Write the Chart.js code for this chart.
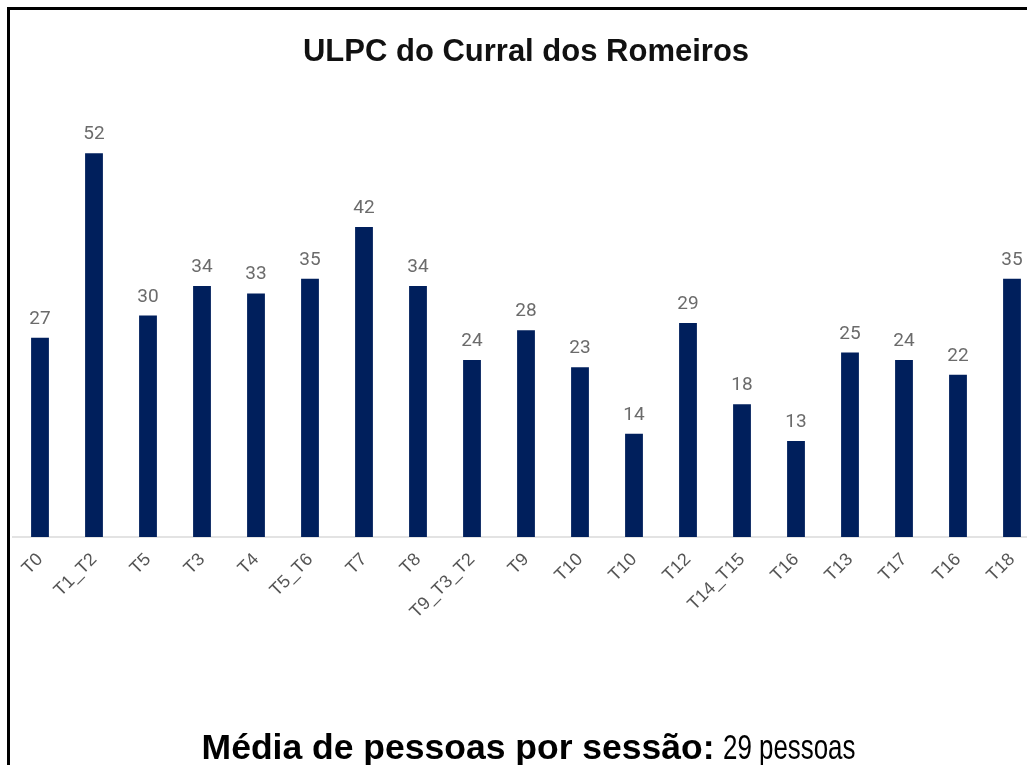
<!DOCTYPE html>
<html lang="pt">
  <head>
    <meta charset="UTF-8">
    <title>ULPC do Curral dos Romeiros</title>
    <script src="https://cdn.jsdelivr.net/npm/chart.js"></script>
    <style>
      html, body { margin: 0; padding: 0; background: #fff; overflow: hidden; }
      body { width: 1027px; height: 765px; position: relative; }
      #frame { position: absolute; left: 7px; top: 7px; width: 2000px; height: 2000px;
               border-top: 3px solid #000; border-left: 3px solid #000; pointer-events: none; }
      #wrap { position: absolute; left: 0; top: 0; width: 1040px; height: 700px; }
      #media { position: absolute; left: 14px; top: 729px; width: 1027px; text-align: center;
               font-size: 35px; line-height: 35px; color: #000; white-space: nowrap; }
      #media b { font-family: "Liberation Sans", Arial, sans-serif; font-weight: bold; font-size: 35.5px; }
      #media span { display: inline-block; font-family: "Liberation Sans", Arial, sans-serif;
                    transform: scaleX(0.74); transform-origin: left center; margin-right: -49px; }
    </style>
  </head>
  <body>
    <div id="wrap"><canvas id="chart" width="1040" height="700"></canvas></div>
    <div id="frame"></div>
    <div id="media"><b>Média de pessoas por sessão:</b> <span>29 pessoas</span></div>
    <script>
    const labels = ['T0', 'T1_T2', 'T5', 'T3', 'T4', 'T5_T6', 'T7', 'T8', 'T9_T3_T2', 'T9',
                    'T10', 'T10', 'T12', 'T14_T15', 'T16', 'T13', 'T17', 'T16', 'T18'];
    const pessoas = [27, 52, 30, 34, 33, 35, 42, 34, 24, 28, 23, 14, 29, 18, 13, 25, 24, 22, 35];

    // numbers above the bars (no datalabels plugin offline)
    const valueLabels = {
      id: 'valueLabels',
      afterDatasetsDraw(chart) {
        const ctx = chart.ctx;
        const meta = chart.getDatasetMeta(0);
        ctx.save();
        ctx.font = '19px Roboto, "Liberation Sans", sans-serif';
        ctx.fillStyle = '#6b6b6b';
        ctx.textAlign = 'center';
        ctx.textBaseline = 'alphabetic';
        meta.data.forEach((bar, i) => {
          ctx.fillText(pessoas[i], bar.x, bar.y - 14);
        });
        ctx.restore();
      }
    };

    const ctx = document.getElementById('chart').getContext('2d');
    new Chart(ctx, {
      type: 'bar',
      data: {
        labels: labels,
        datasets: [{
          label: 'Pessoas',
          data: pessoas,
          backgroundColor: '#001f5c',
          borderWidth: 0,
          barPercentage: 0.33,
          categoryPercentage: 1.0
        }]
      },
      options: {
        responsive: false,
        animation: false,
        layout: { padding: { left: 13, right: 1, top: 0, bottom: 0 } },
        plugins: {
          legend: { display: false },
          tooltip: { enabled: false },
          title: {
            display: true,
            text: 'ULPC do Curral dos Romeiros',
            color: '#111',
            font: { family: '"Liberation Sans", Arial, sans-serif', size: 31, weight: 'bold' },
            padding: { top: 34, bottom: 23 }
          }
        },
        scales: {
          y: { display: false, min: 0, max: 60 },
          x: {
            grid: { display: false },
            border: { display: true, color: '#e3e3e3', width: 2 },
            ticks: {
              autoSkip: false,
              maxRotation: 45,
              minRotation: 45,
              color: '#555',
              padding: 4,
              font: { family: '"Liberation Sans", Arial, sans-serif', size: 18 }
            },
            afterFit(scale) { scale.height = 163; }
          }
        }
      },
      plugins: [valueLabels]
    });
    </script>
  </body>
</html>
